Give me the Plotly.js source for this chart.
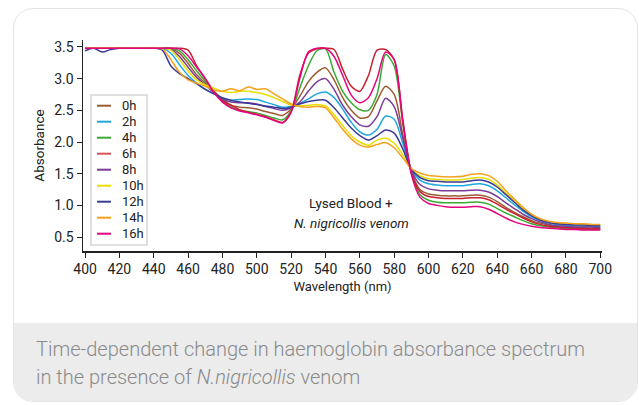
<!DOCTYPE html>
<html>
<head>
<meta charset="utf-8">
<script src="https://cdn.plot.ly/plotly-3.0.1.min.js"></script>
<style>
  html, body { margin:0; padding:0; background:#ffffff; }
  #card { position:absolute; left:13px; top:8px; width:623px; height:392px;
          border:1.5px solid #e4e4e4; border-radius:20px; overflow:hidden; background:#ffffff; }
  #band { position:absolute; left:0; right:0; top:314px; bottom:0; background:#ececec; }
  #chart { position:absolute; left:0; top:0; width:639px; height:405px; }
</style>
</head>
<body>
<div id="card"><div id="band"></div></div>
<div id="chart"></div>
<script>
// Wavelengths (nm), 400..700 every 5 nm
const wavelength = [400,405,410,415,420,425,430,435,440,445,450,455,460,465,470,475,480,485,490,495,500,505,510,515,520,525,530,535,540,545,550,555,560,565,570,575,580,585,590,595,600,605,610,615,620,625,630,635,640,645,650,655,660,665,670,675,680,685,690,695,700];

const seriesNames = ["0h","2h","4h","6h","8h","10h","12h","14h","16h"];
const seriesColors = ["#9c5a32","#1ea8e0","#3aaa35","#c8202f","#7b3c98","#e6df00","#3b3b95","#f6a11c","#e5047f"];
const legendColors = ["#9c5a32","#1ea8e0","#3aaa35","#d9505c","#7b3c98","#e6df00","#3b3b95","#f6a11c","#e5047f"];

const abs0h  = [3.48,3.48,3.48,3.48,3.48,3.48,3.48,3.48,3.48, 3.48,3.47,3.40,3.24,3.06,2.93,2.80, 2.68,2.58,2.55,2.54,2.52,2.48,2.45,2.42,2.52, 2.72,2.95,3.10,3.17,2.98,2.70,2.50,2.38,2.40,2.65,2.88,2.75,2.12,1.53, 1.25,1.18,1.16,1.15,1.15,1.15,1.16,1.16,1.13,1.06,0.97,0.89,0.82,0.76,0.72,0.69,0.67,0.66,0.65,0.65,0.64,0.64];
const abs2h  = [3.48,3.48,3.48,3.48,3.48,3.48,3.48,3.48,3.48, 3.48,3.40,3.22,3.05,2.93,2.83,2.76, 2.69,2.66,2.67,2.68,2.67,2.63,2.59,2.55,2.56, 2.61,2.68,2.76,2.79,2.70,2.52,2.31,2.16,2.11,2.20,2.41,2.36,1.98,1.56, 1.40,1.34,1.32,1.31,1.31,1.31,1.33,1.34,1.31,1.23,1.12,1.01,0.91,0.82,0.76,0.72,0.70,0.69,0.68,0.67,0.67,0.67];
const abs4h  = [3.48,3.48,3.48,3.48,3.48,3.48,3.48,3.48,3.48, 3.48,3.48,3.44,3.30,3.12,2.96,2.80, 2.66,2.55,2.50,2.48,2.46,2.42,2.38,2.35,2.49, 2.85,3.20,3.44,3.47,3.10,2.80,2.62,2.51,2.50,2.75,3.38,3.20,2.30,1.51, 1.17,1.08,1.05,1.04,1.04,1.04,1.05,1.05,1.02,0.95,0.88,0.82,0.76,0.71,0.68,0.66,0.64,0.63,0.63,0.62,0.62,0.62];
const abs6h  = [3.48,3.48,3.48,3.48,3.48,3.48,3.48,3.48,3.48, 3.48,3.48,3.48,3.45,3.20,3.00,2.80, 2.65,2.58,2.51,2.47,2.44,2.40,2.35,2.31,2.48, 3.05,3.40,3.47,3.48,3.46,3.15,2.88,2.80,3.05,3.45,3.46,3.30,2.36,1.52, 1.22,1.14,1.12,1.11,1.11,1.11,1.12,1.12,1.09,1.02,0.94,0.87,0.80,0.74,0.70,0.67,0.66,0.65,0.64,0.64,0.63,0.63];
const abs8h  = [3.48,3.48,3.48,3.48,3.48,3.48,3.48,3.48,3.48, 3.48,3.46,3.35,3.18,3.02,2.90,2.78, 2.68,2.63,2.62,2.62,2.60,2.56,2.53,2.50,2.54, 2.63,2.80,2.95,3.00,2.83,2.58,2.40,2.27,2.25,2.40,2.69,2.56,2.06,1.55, 1.33,1.26,1.24,1.23,1.23,1.23,1.24,1.24,1.21,1.14,1.04,0.95,0.86,0.79,0.74,0.70,0.68,0.67,0.66,0.66,0.66,0.65];
const abs10h = [3.48,3.48,3.48,3.48,3.48,3.48,3.48,3.48,3.48, 3.48,3.45,3.30,3.12,2.98,2.90,2.85, 2.80,2.78,2.80,2.80,2.78,2.75,2.70,2.64,2.58, 2.57,2.58,2.59,2.57,2.43,2.26,2.10,2.00,1.95,2.03,2.06,1.98,1.80,1.57, 1.47,1.42,1.41,1.40,1.40,1.41,1.43,1.44,1.41,1.32,1.19,1.07,0.95,0.85,0.78,0.74,0.72,0.71,0.70,0.70,0.69,0.69];
const abs12h = [3.44,3.48,3.42,3.46,3.48,3.48,3.48,3.48,3.48, 3.45,3.20,3.08,3.00,2.92,2.83,2.76, 2.70,2.66,2.63,2.61,2.59,2.57,2.55,2.53,2.55, 2.60,2.64,2.66,2.66,2.54,2.38,2.22,2.10,2.03,2.10,2.19,2.14,1.89,1.57, 1.44,1.39,1.38,1.37,1.37,1.37,1.39,1.40,1.37,1.29,1.17,1.05,0.93,0.84,0.77,0.73,0.71,0.70,0.69,0.69,0.68,0.68];
const abs14h = [3.48,3.48,3.48,3.48,3.48,3.48,3.48,3.48,3.48, 3.47,3.30,3.10,2.98,2.93,2.88,2.82, 2.80,2.84,2.81,2.87,2.83,2.84,2.76,2.68,2.60, 2.56,2.55,2.56,2.54,2.38,2.20,2.05,1.95,1.92,1.96,1.99,1.91,1.75,1.58, 1.51,1.47,1.46,1.45,1.45,1.46,1.49,1.50,1.47,1.38,1.23,1.10,0.97,0.86,0.79,0.75,0.73,0.72,0.71,0.71,0.70,0.70];
const abs16h = [3.48,3.48,3.48,3.48,3.48,3.48,3.48,3.48,3.48, 3.48,3.48,3.47,3.36,3.18,3.00,2.78, 2.63,2.54,2.49,2.46,2.43,2.39,2.34,2.30,2.47, 3.00,3.42,3.48,3.48,3.35,3.05,2.74,2.62,2.70,3.00,3.42,3.30,2.32,1.49, 1.13,1.03,1.00,0.98,0.97,0.97,0.98,0.98,0.94,0.87,0.80,0.74,0.70,0.67,0.65,0.64,0.63,0.62,0.62,0.61,0.61,0.61];

const seriesValues = [abs0h,abs2h,abs4h,abs6h,abs8h,abs10h,abs12h,abs14h,abs16h];

const xTicks = [400,420,440,460,480,500,520,540,560,580,600,620,640,660,680,700];
const yTicks = [0.5,1.0,1.5,2.0,2.5,3.0,3.5];
const yTickText = ["0.5","1.0","1.5","2.0","2.5","3.0","3.5"];

const FONT = "Roboto, 'Noto Sans', sans-serif";
const W = 639, H = 405, ML = 83, MR = 37, MT = 40, MB = 154;
const PW = W - ML - MR, PH = H - MT - MB;
const px = x => (x - ML) / PW;
const py = y => (H - MB - y) / PH;

const traces = seriesValues.map((vals, i) => ({
  x: wavelength, y: vals, type: 'scatter', mode: 'lines', name: seriesNames[i],
  line: {color: seriesColors[i], width: 1.5, shape: 'spline', smoothing: 0.8},
  showlegend: false, hoverinfo: 'skip'
}));

const shapes = [{
  type: 'rect', xref: 'paper', yref: 'paper',
  x0: px(91), x1: px(147), y0: py(245), y1: py(95),
  line: {color: '#d6d6d6', width: 1.5}, fillcolor: 'rgba(255,255,255,1)'
}];
const annotations = [];
seriesNames.forEach((n, i) => {
  const yy = 105.7 + 16 * i;
  shapes.push({type: 'line', xref: 'paper', yref: 'paper',
    x0: px(97), x1: px(111), y0: py(yy), y1: py(yy),
    line: {color: legendColors[i], width: 2}});
  annotations.push({xref: 'paper', yref: 'paper', x: px(120), y: py(yy),
    xanchor: 'left', yanchor: 'middle', showarrow: false, text: n,
    font: {family: FONT, size: 13, color: '#222'}});
});
annotations.push({xref: 'paper', yref: 'paper', x: px(351), y: py(203),
  xanchor: 'center', yanchor: 'middle', showarrow: false, text: 'Lysed Blood +',
  font: {family: FONT, size: 13.5, color: '#222'}});
annotations.push({xref: 'paper', yref: 'paper', x: px(351), y: py(223),
  xanchor: 'center', yanchor: 'middle', showarrow: false, text: '<i>N. nigricollis venom</i>',
  font: {family: FONT, size: 13.5, color: '#222'}});
annotations.push({xref: 'paper', yref: 'paper', x: px(34), y: py(349),
  xanchor: 'left', yanchor: 'middle', showarrow: false,
  text: 'Time-dependent change in haemoglobin absorbance spectrum',
  font: {family: FONT, size: 20, color: '#8a8a8a', weight: 300}});
annotations.push({xref: 'paper', yref: 'paper', x: px(34), y: py(377),
  xanchor: 'left', yanchor: 'middle', showarrow: false,
  text: 'in the presence of <i>N.nigricollis</i> venom',
  font: {family: FONT, size: 20, color: '#8a8a8a', weight: 300}});

const layout = {
  width: W, height: H,
  margin: {l: ML, r: MR, t: MT, b: MB, pad: 0},
  paper_bgcolor: 'rgba(0,0,0,0)', plot_bgcolor: 'rgba(0,0,0,0)',
  font: {family: FONT, color: '#222'},
  xaxis: {
    range: [398.8, 701], tickvals: xTicks, ticktext: xTicks.map(String),
    showgrid: false, zeroline: false, showline: true, linecolor: '#222', linewidth: 1.5,
    ticks: 'outside', ticklen: 5, tickwidth: 1, tickcolor: '#222',
    tickfont: {family: FONT, size: 14, color: '#222'},
    title: {text: 'Wavelength (nm)', font: {family: FONT, size: 13, color: '#222'}, standoff: 5},
    automargin: false
  },
  yaxis: {
    range: [0.28, 3.61], tickvals: yTicks, ticktext: yTickText,
    showgrid: false, zeroline: false, showline: true, linecolor: '#222', linewidth: 1.5,
    ticks: 'outside', ticklen: 5, tickwidth: 1, tickcolor: '#222',
    tickfont: {family: FONT, size: 14, color: '#222'},
    title: {text: 'Absorbance', font: {family: FONT, size: 13.5, color: '#222'}, standoff: 6},
    automargin: false
  },
  shapes: shapes,
  annotations: annotations
};

Plotly.newPlot('chart', traces, layout, {displayModeBar: false, staticPlot: true});
</script>
</body>
</html>
